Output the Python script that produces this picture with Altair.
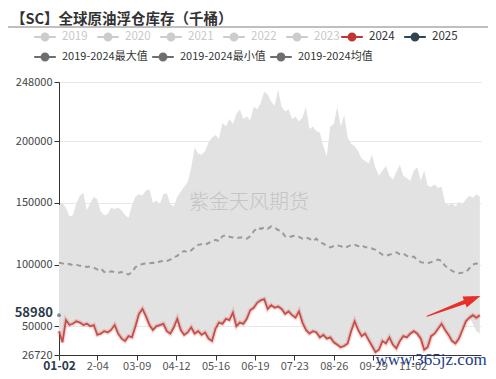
import json
import altair as alt
import pandas as pd

FONT = "Noto Sans CJK SC"

# ---------------- data ----------------
days = list(range(0, 364, 3))  # day index from 01-02

max_k = [148, 150, 146, 139, 140, 150, 156, 158, 144, 150,
         155, 153, 143, 140, 141, 146, 145, 146, 144, 140,
         138, 148, 155, 157, 156, 160, 161, 150, 152, 149,
         157, 158, 149, 147, 155, 159, 163, 167, 178, 195,
         190, 189, 192, 199, 203, 205, 202, 215, 212, 218,
         214, 222, 226, 218, 220, 217, 228, 226, 231, 240,
         238, 232, 229, 242, 228, 224, 226, 218, 220, 216,
         219, 228, 210, 212, 208, 207, 196, 188, 212, 214,
         228, 212, 221, 203, 198, 196, 192, 186, 184, 182,
         189, 178, 172, 176, 180, 172, 169, 175, 181, 172,
         170, 168, 176, 179, 168, 176, 164, 163, 165, 162,
         163, 150, 148, 150, 147, 151, 149, 153, 156, 154,
         157, 155]

mean_k = [101.5, 101, 100, 100.5, 99.5, 100, 99, 99, 98, 98.5,
          97.5, 96, 97, 94, 93.5, 94.5, 94, 93.5, 94, 92.5,
          92, 94, 98, 99.5, 100.5, 101, 101, 101.5, 101, 102.5,
          103, 103, 104, 106, 107, 110, 111, 110, 111.5, 114,
          116, 116.5, 116, 117.5, 119, 120, 119, 123, 124, 122.5,
          122, 121.5, 122, 122, 121, 123, 127, 130, 129, 130,
          129, 131, 130, 128, 127, 123, 122, 123, 123.5, 122.5,
          121, 122, 121, 119, 121, 118, 117, 115, 114, 115,
          115.5, 115, 113.5, 114.5, 116, 116, 115, 116, 114, 114,
          113, 112, 110, 108, 107, 108, 109, 110, 108.5, 109,
          107, 106, 106.5, 104, 102, 101.5, 101, 102, 103, 104,
          103, 99, 97, 95, 93.5, 93, 93.5, 94, 97, 100,
          101, 99]

y2024_k = [46, 37, 55, 51, 52, 54, 53, 51, 52, 50,
           51, 43, 44, 46, 45, 47, 51, 44, 40, 38,
           42, 41, 50, 60, 64, 58, 51, 47, 50, 51,
           52, 46, 44, 49, 56, 47, 43, 45, 49, 44,
           46, 43, 45, 40, 38, 48, 53, 52, 56, 55,
           61, 50, 53, 52, 56, 63, 65, 69, 71, 72,
           64, 67, 65, 66, 64, 60, 62, 59, 57, 62,
           53, 47, 44, 46, 45, 41, 43, 40, 41, 37,
           35, 33, 34, 36, 46, 54, 47, 42, 44, 39,
           34, 29, 31, 38, 36, 41, 35, 32, 38, 42,
           41, 44, 46, 44, 40, 31, 33, 42, 44, 48,
           52, 47, 43, 38, 36, 40, 47, 54, 57, 59,
           57, 59]

min_k = [46, 37, 55, 51, 52, 54, 53, 51, 52, 50,
         51, 43, 44, 46, 45, 47, 51, 44, 40, 38,
         42, 41, 50, 60, 64, 58, 51, 47, 50, 51,
         52, 46, 44, 49, 56, 47, 43, 45, 49, 44,
         46, 43, 45, 40, 38, 48, 53, 52, 56, 55,
         61, 50, 53, 52, 56, 63, 65, 69, 71, 72,
         64, 67, 65, 66, 64, 60, 62, 59, 57, 62,
         53, 47, 44, 46, 45, 41, 43, 40, 41, 37,
         35, 33, 34, 36, 46, 54, 47, 42, 44, 39,
         34, 29, 31, 38, 36, 41, 35, 32, 38, 42,
         41, 44, 46, 44, 40, 31, 33, 42, 44, 48,
         52, 47, 43, 38, 36, 40, 47, 54, 57, 52,
         46, 44]

day2025 = [0]
y2025 = [58980]

tick_days = [0, 33, 67, 101, 135, 169, 203, 237, 271, 305]
tick_labels = ["01-02", "2-04", "03-09", "04-12", "05-16", "06-19",
               "07-23", "08-26", "09-29", "11-02"]
y_ticks = [26720, 50000, 100000, 150000, 200000, 248000]

legend_off_names = ["2019", "2020", "2021", "2022", "2023"]
legend_off_colors = ["#cccccc"] * 5
legend_on_names = ["2024", "2025"]
legend_on_colors = ["#c23531", "#2f4554"]
legend_stat_names = ["2019-2024最大值", "2019-2024最小值", "2019-2024均值"]
legend_stat_colors = ["#6e6e6e", "#6e6e6e", "#6e6e6e"]

arrow_day = [317.5, 356.7]
arrow_val = [58200, 72100]
arrow_w = [1, 5]

# ---------------- frames ----------------
df = pd.DataFrame({
    "day": days,
    "max": [v * 1000 for v in max_k],
    "min": [v * 1000 for v in min_k],
    "mean": [v * 1000 for v in mean_k],
    "y2024": [v * 1000 for v in y2024_k],
})
df25 = pd.DataFrame({"day": day2025, "v": y2025})
arrow_df = pd.DataFrame({"day": arrow_day, "v": arrow_val, "w": arrow_w})
one = pd.DataFrame({"a": [0]})

label_expr = f"{json.dumps(tick_labels)}[indexof({json.dumps(tick_days)}, datum.value)]"

xscale = alt.Scale(domain=[0, 364], nice=False, zero=False)
yscale = alt.Scale(domain=[26720, 248000], nice=False, zero=False)

xaxis = alt.Axis(values=tick_days, labelExpr=label_expr, title=None, grid=False,
                 domainColor="#333333", tickColor="#333333", tickSize=5,
                 labelPadding=0, labelOverlap=False, labelFlush=False,
                 labelFont=FONT,
                 labelFontSize={"condition": {"test": "datum.value == 0", "value": 12}, "value": 11},
                 labelFontWeight={"condition": {"test": "datum.value == 0", "value": "bold"}, "value": "normal"},
                 labelColor={"condition": {"test": "datum.value == 0", "value": "#2b3a4a"}, "value": "#555555"})
yaxis = alt.Axis(values=y_ticks, format="d", title=None, grid=True, gridColor="#e8e8e8",
                 domainColor="#333333", tickColor="#333333", tickSize=5, labelPadding=2,
                 labelFont=FONT, labelFontSize=11, labelColor="#444444", labelOverlap=False)

X = alt.X("day:Q", scale=xscale, axis=xaxis)


def Y(field):
    return alt.Y(field, scale=yscale, axis=yaxis)


area = alt.Chart(df).mark_area(color="#e2e2e2").encode(
    x=X, y=Y("max:Q"), y2="min:Q")

mean_line = alt.Chart(df).mark_line(color="#9a9a9a", strokeWidth=2, strokeDash=[5, 4]).encode(
    x=X, y=Y("mean:Q"))

glow24 = alt.Chart(df).mark_line(color="#d9534f", strokeWidth=4.5, opacity=0.22).encode(
    x=X, y=Y("y2024:Q"))

line24 = alt.Chart(df).mark_line(color="#c0413b", strokeWidth=1.8, opacity=0.9).encode(
    x=X, y=Y("y2024:Q"))

pt25 = alt.Chart(df25).mark_point(filled=True, size=14, color="#2f4554", opacity=0.6).encode(
    x=X, y=Y("v:Q"))

SYM = "M-1.2,0L-0.38,0M0.38,0L1.2,0M-0.38,0A0.38,0.38,0,1,1,0.38,0A0.38,0.38,0,1,1,-0.38,0Z"


def legend_layer(names, colors, lx, ly, label_color, col_pad, font_size):
    leg = alt.Legend(
        title=None, orient="none", legendX=lx, legendY=ly, direction="horizontal",
        columns=len(names), gridAlign="none", symbolType=SYM, symbolSize=324,
        symbolStrokeWidth=2, symbolOpacity=1, labelFont=FONT, labelFontSize=font_size,
        labelColor=label_color, labelOffset=7, columnPadding=col_pad, rowPadding=0,
        padding=0, offset=0)
    ldf = pd.DataFrame({"name": names, "day": [0] * len(names), "v": [None] * len(names)})
    sc = alt.Scale(domain=names, range=colors)
    return alt.Chart(ldf).mark_line().encode(
        x=X, y=Y("v:Q"),
        stroke=alt.Stroke("name:N", scale=sc, legend=leg),
        fill=alt.Fill("name:N", scale=sc, legend=leg))


leg_off = legend_layer(legend_off_names, legend_off_colors, -24, -55, "#c8c8c8", 5, 11.5)
leg_on = legend_layer(legend_on_names, legend_on_colors, 283, -55, "#333333", 5, 11.5)
leg_stat = legend_layer(legend_stat_names, legend_stat_colors, -24, -35, "#333333", 0, 11)

pointer_label = alt.Chart(df25).mark_text(
    align="right", baseline="middle", font=FONT, fontSize=13, fontWeight="bold",
    color="#2b3a4a", dy=-2).encode(x=alt.value(-6), y=Y("v:Q"), text=alt.Text("v:Q", format="d"))

arrow_shaft = alt.Chart(arrow_df).mark_trail(color="#e8302a").encode(
    x=X, y=Y("v:Q"),
    size=alt.Size("w:Q", scale=alt.Scale(domain=[1, 5], range=[1, 5]), legend=None))

arrow_head = alt.Chart(arrow_df.tail(1)).mark_point(
    shape="M0,-1L0.7,1L-0.7,1Z", filled=True, size=289, angle=69,
    color="#e8302a", opacity=1).encode(x=X, y=Y("v:Q"))

watermark = alt.Chart(one).mark_text(
    text="紫金天风期货", font=FONT, fontSize=20, fontWeight=300, color="#c4c4c4",
    align="center", baseline="middle").encode(x=alt.value(190), y=alt.value(121))

site = alt.Chart(one).mark_text(
    text="www.365jz.com", font="Liberation Serif", fontSize=17, color="#1d3c8a",
    align="center", baseline="middle").encode(x=alt.value(372), y=alt.value(278))

sep = alt.Chart(one).mark_rule(color="#aaaaaa", strokeWidth=1.5).encode(
    x=alt.value(-51), x2=alt.value(429), y=alt.value(-55))

chart = alt.layer(
    area, mean_line, glow24, line24, pt25, leg_off, leg_on, leg_stat, pointer_label,
    arrow_shaft, arrow_head, watermark, site, sep
).resolve_scale(
    stroke="independent", fill="independent"
).properties(
    width=422, height=273,
    padding={"left": 51, "top": 74, "right": 7, "bottom": 16},
    autosize=alt.AutoSizeParams(type="none"),
    title=alt.TitleParams("【SC】全球原油浮仓库存（千桶）", anchor="start", frame="group",
                          dx=-48, dy=7, offset=6, font=FONT, fontSize=14.5, fontWeight="bold",
                          color="#333333"),
).configure_view(stroke=None)

chart.save("out.html", embed_options={"renderer": "svg", "actions": False})
